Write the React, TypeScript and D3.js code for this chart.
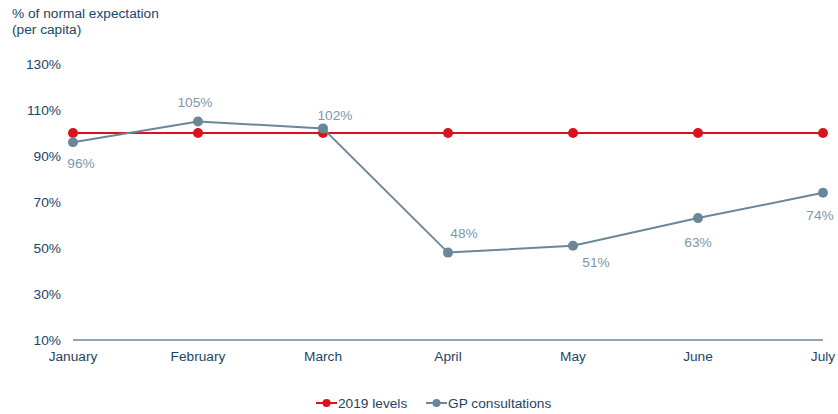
import { useEffect, useRef } from "react";
import * as d3 from "d3";

const months = ["January", "February", "March", "April", "May", "June", "July"];
const levels2019 = [100, 100, 100, 100, 100, 100, 100];
const gpConsultations = [96, 105, 102, 48, 51, 63, 74];
const yTicks = [10, 30, 50, 70, 90, 110, 130];
// label offsets (dx, dy) relative to each GP point
const labelPos = [
  [8, 21], [-3, -19], [12, -13], [16, -19], [23, 17], [0, 24], [-3, 22],
];

const RED = "#D7141E";
const GREY = "#6A8799";
const TEXT = "#1E4565";
const LABEL = "#7C97AA";
const FS = 13.7;

export default function App() {
  const ref = useRef<SVGSVGElement>(null);

  useEffect(() => {
    const width = 838;
    const height = 414;
    const svg = d3.select(ref.current);
    svg.selectAll("*").remove();
    svg.style("font-family", "'Liberation Sans', Arial, sans-serif");

    const x = d3.scalePoint<string>().domain(months).range([73, 823]);
    const y = d3.scaleLinear().domain([10, 130]).range([340, 64]);

    // title
    svg.append("text").attr("x", 12).attr("y", 18).attr("font-size", FS)
      .attr("fill", TEXT).text("% of normal expectation");
    svg.append("text").attr("x", 12).attr("y", 34).attr("font-size", FS)
      .attr("fill", TEXT).text("(per capita)");

    // y tick labels
    svg.append("g").selectAll("text").data(yTicks).join("text")
      .attr("x", 61).attr("y", d => y(d)).attr("dy", "0.35em")
      .attr("text-anchor", "end").attr("font-size", FS).attr("fill", TEXT)
      .text(d => d + "%");

    // x axis
    svg.append("line").attr("x1", x("January")!).attr("x2", x("July")!)
      .attr("y1", y(10)).attr("y2", y(10)).attr("stroke", GREY).attr("stroke-width", 1.5);
    svg.append("g").selectAll("text").data(months).join("text")
      .attr("x", d => x(d)!).attr("y", 361).attr("text-anchor", "middle")
      .attr("font-size", FS).attr("fill", TEXT).text(d => d);

    const line = d3.line<number>().x((_, i) => x(months[i])!).y(d => y(d));

    const drawSeries = (vals: number[], color: string) => {
      svg.append("path").datum(vals).attr("fill", "none").attr("stroke", color)
        .attr("stroke-width", 2).attr("d", line);
      svg.append("g").selectAll("circle").data(vals).join("circle")
        .attr("cx", (_, i) => x(months[i])!).attr("cy", d => y(d)).attr("r", 5)
        .attr("fill", color);
    };
    drawSeries(levels2019, RED);
    drawSeries(gpConsultations, GREY);

    // data labels
    svg.append("g").selectAll("text").data(gpConsultations).join("text")
      .attr("x", (_, i) => x(months[i])! + labelPos[i][0])
      .attr("y", (d, i) => y(d) + labelPos[i][1]).attr("dy", "0.35em")
      .attr("text-anchor", "middle").attr("font-size", FS).attr("fill", LABEL)
      .text(d => d + "%");

    // legend
    const legend = [
      { name: "2019 levels", color: RED, x: 316 },
      { name: "GP consultations", color: GREY, x: 426 },
    ];
    const lg = svg.append("g").selectAll("g").data(legend).join("g")
      .attr("transform", d => `translate(${d.x},403)`);
    lg.append("line").attr("x1", 0).attr("x2", 21).attr("stroke", d => d.color).attr("stroke-width", 2);
    lg.append("circle").attr("cx", 10.5).attr("r", 4).attr("fill", d => d.color);
    lg.append("text").attr("x", 22).attr("dy", "0.35em").attr("font-size", FS)
      .attr("fill", TEXT).text(d => d.name);

    svg.attr("width", width).attr("height", height);
  }, []);

  return (
    <div style={{ position: "absolute", left: 0, top: 0 }}>
      <svg ref={ref} width={838} height={414} style={{ display: "block" }} />
    </div>
  );
}
